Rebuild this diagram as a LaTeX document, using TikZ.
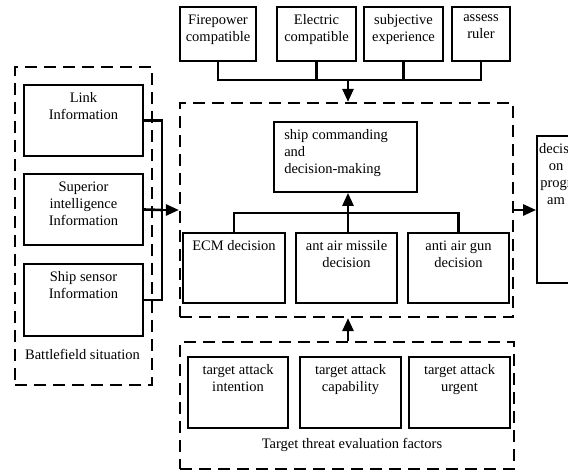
\documentclass[tikz,border=0pt]{standalone}
\usepackage{fontspec}
\setmainfont{Liberation Serif}
\usepackage{tikz}
\usetikzlibrary{arrows.meta}

\begin{document}
\begin{tikzpicture}[x=1pt,y=-1pt,font=\fontsize{14.5}{17}\selectfont,
    box/.style={draw, line width=1.8pt, inner sep=0pt},
    grp/.style={draw, line width=2.2pt, dash pattern=on 12pt off 7pt, inner sep=0pt},
    txt/.style={anchor=north, align=center, inner sep=0pt, yshift=-8.5pt},
    conn/.style={line width=2.6pt},
    arr/.style={conn, -{Triangle[length=13pt,width=11pt]}}]
  \useasboundingbox (0,0) rectangle (568,470);

  % evaluation inputs
  \node[box, minimum width=76pt, minimum height=54pt, label={[txt]north:Firepower\\compatible}] (fire) at (218,34) {};
  \node[box, minimum width=79pt, minimum height=54pt, label={[txt]north:Electric\\compatible}] (elec) at (316.5,34) {};
  \node[box, minimum width=79pt, minimum height=54pt, label={[txt]north:subjective\\experience}] (subj) at (403.5,34) {};
  \node[box, minimum width=58pt, minimum height=54pt, label={[txt]north:assess\\ruler}] (assess) at (481,34) {};

  % battlefield situation
  \node[grp, minimum width=137pt, minimum height=318pt] (battle) at (83.5,226) {};
  \node[box, minimum width=119pt, minimum height=71pt, label={[txt]north:Link\\Information}] (link) at (83.5,120.5) {};
  \node[box, minimum width=119pt, minimum height=71pt, label={[txt]north:Superior\\intelligence\\Information}] (superior) at (83.5,209.5) {};
  \node[box, minimum width=119pt, minimum height=72pt, label={[txt]north:Ship sensor\\Information}] (sensor) at (83.5,300) {};
  \node (battlelbl) at (82.5,354) {Battlefield situation};

  % commanding
  \node[grp, minimum width=333pt, minimum height=214pt] (main) at (346.5,210) {};
  \node[box, minimum width=143pt, minimum height=70pt, label={[txt, anchor=north west, align=left, xshift=11pt]north west:ship commanding\\and\\decision-making}] (ship) at (345.5,157) {};
  \node[box, minimum width=102pt, minimum height=70pt, label={[txt]north:ECM decision}] (ecm) at (234,268) {};
  \node[box, minimum width=101pt, minimum height=70pt, label={[txt]north:ant air missile\\decision}] (missile) at (346.5,268) {};
  \node[box, minimum width=101pt, minimum height=70pt, label={[txt]north:anti air gun\\decision}] (gun) at (458.5,268) {};

  % threat factors
  \node[grp, minimum width=334pt, minimum height=127pt] (threat) at (347,405.5) {};
  \node[box, minimum width=100pt, minimum height=71pt, label={[txt]north:target attack\\intention}] (intent) at (238,392.5) {};
  \node[box, minimum width=101pt, minimum height=71pt, label={[txt]north:target attack\\capability}] (capab) at (350.5,392.5) {};
  \node[box, minimum width=101pt, minimum height=71pt, label={[txt]north:target attack\\urgent}] (urgent) at (459.5,392.5) {};
  \node (threatlbl) at (352,445) {Target threat evaluation factors};

  % output
  \node[box, minimum width=38pt, minimum height=147pt, label={[txt]north:decisi\\on\\progr\\am}] (plan) at (556,209.5) {};

  \coordinate (tbus) at (348,80);
  \coordinate (lbus) at (162,210);
  \coordinate (dbus) at (348,213);

  \draw[conn] (fire.south) |- (tbus) -| (assess.south);
  \draw[conn] (elec.south) -- (elec.south |- tbus);
  \draw[conn] (subj.south) -- (subj.south |- tbus);
  \draw[arr] (tbus) -- (tbus |- main.north);

  \draw[conn] (link.east) -| (lbus |- sensor.east) -- (sensor.east);
  \draw[conn] (superior.east) -- (lbus);
  \draw[arr] (lbus) -- (main.west);

  \draw[conn] (ecm.north) |- (dbus) -| (gun.north);
  \draw[conn] (dbus |- missile.north) -- (dbus);
  \draw[arr] (dbus) -- (dbus |- ship.south);

  \draw[arr] (dbus |- threat.north) -- (dbus |- main.south);
  \draw[arr] (main.east) -- (main.east -| plan.west);
\end{tikzpicture}
\end{document}
